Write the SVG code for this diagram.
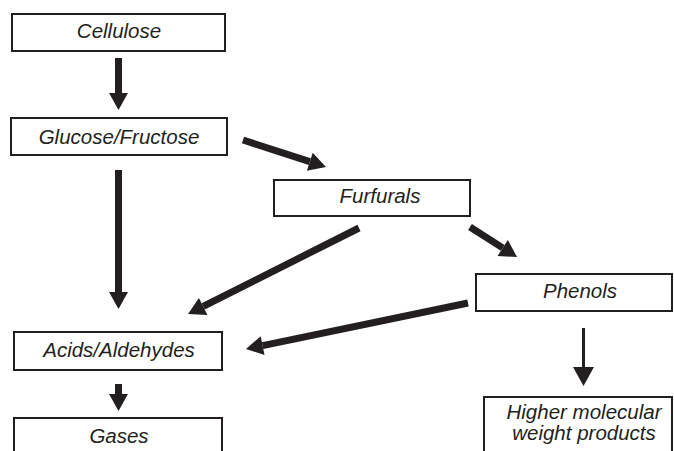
<svg xmlns="http://www.w3.org/2000/svg" width="674" height="451" viewBox="0 0 674 451">
<style>
.box{fill:#fff;stroke:#231f20;stroke-width:2}
.lbl{font-family:"Liberation Sans",Arial,sans-serif;font-style:italic;font-size:20.5px;fill:#231f20;text-anchor:middle}
.arr{stroke:#231f20;stroke-width:7;fill:none}
.thin{stroke:#231f20;stroke-width:3;fill:none}
</style>
<defs>
<marker id="head" markerUnits="userSpaceOnUse" markerWidth="20" markerHeight="22" viewBox="0 -11 20 22" refX="0" refY="0" orient="auto" overflow="visible">
<path d="M0,-9.5 L17,0 L0,9.5 z" fill="#231f20"/>
</marker>
<marker id="headL" markerUnits="userSpaceOnUse" markerWidth="22" markerHeight="24" viewBox="0 -12 22 24" refX="0" refY="0" orient="auto" overflow="visible">
<path d="M0,-10.5 L19,0 L0,10.5 z" fill="#231f20"/>
</marker>
</defs>
<rect width="674" height="451" fill="#fff"/>
<g id="connectors">
<line class="arr" x1="118.5" y1="58" x2="118.5" y2="93" marker-end="url(#head)"/>
<line class="arr" x1="118.5" y1="170" x2="118.5" y2="292" marker-end="url(#head)"/>
<line class="arr" x1="118.5" y1="384" x2="118.5" y2="394" marker-end="url(#head)"/>
<line class="arr" x1="243" y1="140" x2="309.8" y2="161.7" marker-end="url(#head)"/>
<line class="arr" x1="470" y1="227" x2="502.7" y2="247.9" marker-end="url(#head)"/>
<line class="arr" x1="359" y1="228" x2="203.2" y2="306.4" marker-end="url(#head)"/>
<line class="arr" x1="468" y1="303" x2="262.6" y2="345.6" marker-end="url(#head)"/>
<line class="thin" x1="583.5" y1="328" x2="583.5" y2="367" marker-end="url(#headL)"/>
</g>
<g id="cellulose">
<rect class="box" x="12" y="14" width="213" height="37"/>
<text class="lbl" x="119" y="38">Cellulose</text>
</g>
<g id="glucose">
<rect class="box" x="11" y="118" width="216" height="37"/>
<text class="lbl" x="119" y="144">Glucose/Fructose</text>
</g>
<g id="furfurals">
<rect class="box" x="274" y="180" width="196" height="36"/>
<text class="lbl" x="380" y="203">Furfurals</text>
</g>
<g id="phenols">
<rect class="box" x="476" y="274" width="196" height="37"/>
<text class="lbl" x="580" y="298">Phenols</text>
</g>
<g id="acids">
<rect class="box" x="14" y="332" width="208" height="38"/>
<text class="lbl" x="119" y="357">Acids/Aldehydes</text>
</g>
<g id="gases">
<rect class="box" x="14" y="418" width="208" height="45"/>
<text class="lbl" x="119" y="443">Gases</text>
</g>
<g id="higher">
<rect class="box" x="484" y="397" width="188" height="66"/>
<text class="lbl" x="584" y="419">Higher molecular</text>
<text class="lbl" x="584" y="440">weight products</text>
</g>
</svg>
